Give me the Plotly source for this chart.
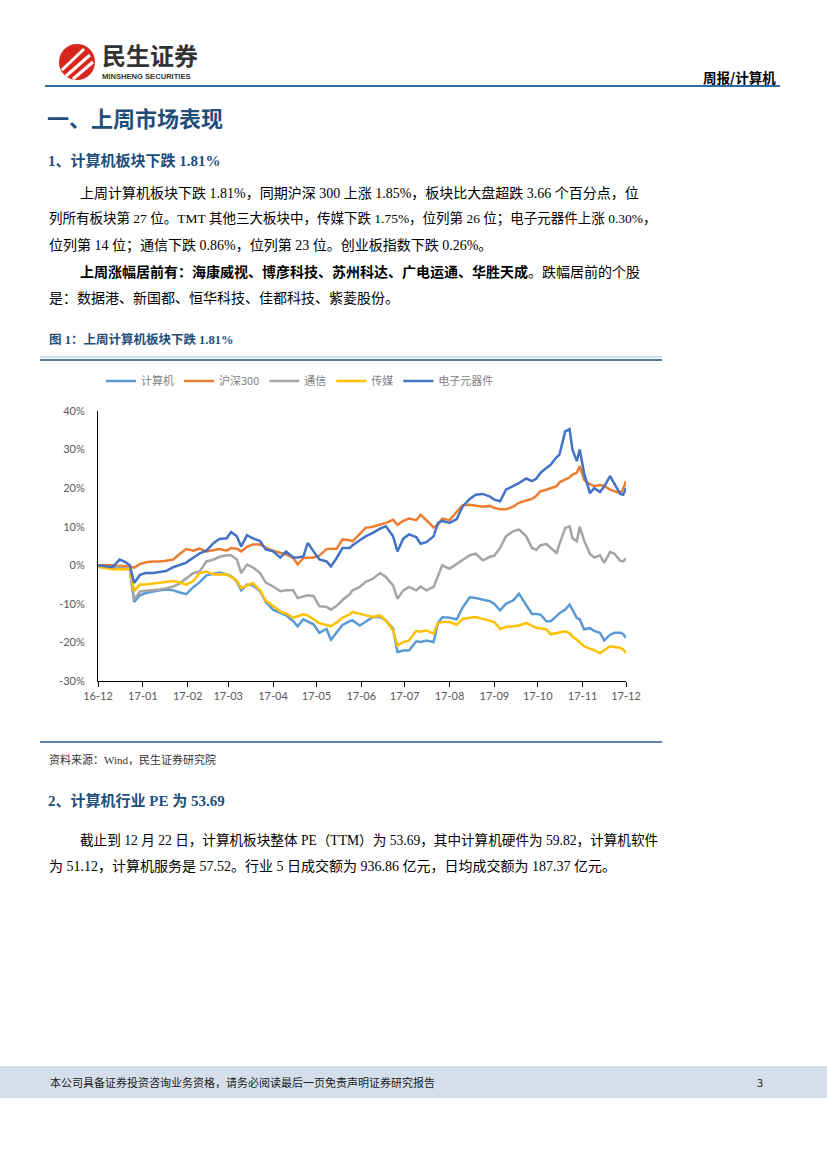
import plotly.graph_objects as go

W, H = 827, 1169

# ---------------- data ----------------
dates = [
    "2016-12-22", "2016-12-28", "2017-01-01", "2017-01-06", "2017-01-10", "2017-01-13", "2017-01-16",
    "2017-01-20", "2017-01-24", "2017-01-29", "2017-02-03", "2017-02-07", "2017-02-12", "2017-02-16",
    "2017-02-21", "2017-02-26", "2017-03-02", "2017-03-07", "2017-03-12", "2017-03-16", "2017-03-21",
    "2017-03-24", "2017-03-28", "2017-03-31", "2017-04-04", "2017-04-08", "2017-04-13", "2017-04-17",
    "2017-04-22", "2017-04-27", "2017-05-01", "2017-05-06", "2017-05-09", "2017-05-13", "2017-05-16",
    "2017-05-20", "2017-05-24", "2017-05-29", "2017-06-01", "2017-06-05", "2017-06-09", "2017-06-14",
    "2017-06-16", "2017-06-21", "2017-06-25", "2017-06-30", "2017-07-05", "2017-07-09", "2017-07-14",
    "2017-07-17", "2017-07-21", "2017-07-25", "2017-07-30", "2017-08-02", "2017-08-06", "2017-08-11",
    "2017-08-14", "2017-08-17", "2017-08-22", "2017-08-27", "2017-08-31", "2017-09-05", "2017-09-09",
    "2017-09-14", "2017-09-19", "2017-09-22", "2017-09-26", "2017-09-30", "2017-10-05", "2017-10-09",
    "2017-10-14", "2017-10-18", "2017-10-21", "2017-10-24", "2017-10-28", "2017-10-31", "2017-11-04",
    "2017-11-06", "2017-11-10", "2017-11-13", "2017-11-15", "2017-11-18", "2017-11-20", "2017-11-23",
    "2017-11-27", "2017-11-30", "2017-12-04", "2017-12-07", "2017-12-11", "2017-12-14", "2017-12-18",
    "2017-12-20", "2017-12-22",
]

computer = [
    -0.4, -0.6, -0.9, -0.9, -0.9, -1.0, -9.5, -7.8, -7.2, -6.8, -6.5, -6.3, -6.5, -7.0,
    -7.5, -5.6, -4.5, -2.6, -2.2, -1.9, -2.4, -2.8, -4.2, -6.5, -5.0, -5.2, -6.7, -9.5,
    -11.5, -12.4, -13.0, -14.5, -15.8, -14.0, -14.5, -15.3, -17.5, -16.5, -19.3, -17.5, -15.5, -14.5,
    -14.3, -15.6, -14.7, -13.4, -13.4, -14.3, -16.5, -22.5, -22.1, -22.1, -19.7, -19.9, -19.5, -19.9,
    -15.0, -13.5, -13.6, -14.0, -11.0, -8.3, -8.5, -9.0, -9.3, -10.0, -11.7, -10.0, -9.1, -7.4,
    -10.5, -12.6, -12.6, -12.8, -14.5, -14.5, -13.2, -12.4, -11.5, -10.2, -11.5, -13.7, -14.0, -16.6,
    -16.3, -17.0, -17.5, -19.5, -18.0, -17.5, -17.5, -17.8, -18.8,
]

hs300 = [
    0.0, 0.0, 0.0, -0.2, -0.2, -0.4, -0.6, 0.3, 0.8, 1.0, 1.0, 1.2, 1.5, 2.8,
    4.2, 3.8, 4.3, 3.6, 3.9, 4.2, 3.8, 4.5, 4.3, 3.6, 4.8, 5.4, 5.4, 4.5,
    3.8, 3.3, 2.8, 1.9, 0.2, 1.9, 1.9, 2.0, 2.5, 4.2, 4.3, 4.3, 6.7, 6.5,
    6.2, 8.2, 9.7, 10.0, 10.5, 11.0, 11.8, 10.5, 11.5, 12.1, 11.7, 13.1, 11.7, 9.8,
    10.5, 12.1, 11.7, 14.0, 15.6, 15.7, 15.4, 15.2, 15.4, 14.9, 14.5, 14.5, 15.2, 16.2,
    16.8, 17.2, 18.0, 19.2, 19.6, 20.0, 20.5, 21.5, 22.2, 22.8, 23.5, 24.0, 25.7, 22.2,
    21.0, 20.5, 20.8, 20.5, 19.6, 19.2, 18.7, 19.8, 21.8,
]

telecom = [
    -0.4, -0.5, -0.6, -0.5, -0.8, -1.0, -8.9, -6.8, -6.6, -6.5, -6.3, -6.0, -5.5, -4.8,
    -3.5, -2.0, -1.7, 1.0, 1.5, 2.2, 2.6, 2.6, 1.5, -2.0, 0.2, -0.5, -2.0, -4.5,
    -5.5, -6.7, -6.5, -6.5, -8.5, -8.0, -7.8, -8.0, -10.6, -10.8, -11.5, -10.5, -9.0, -7.5,
    -6.5, -5.6, -4.3, -3.5, -2.0, -3.0, -5.2, -8.7, -6.5, -5.6, -6.5, -5.5, -6.5, -5.6,
    -3.0, 0.0, -0.9, 0.4, 1.3, 2.6, 3.0, 1.3, 2.2, 2.5, 4.5, 7.5, 8.8, 9.3,
    7.5, 4.5, 4.0, 5.2, 5.5, 4.5, 3.2, 5.5, 9.7, 10.1, 7.0, 6.2, 10.0, 6.5,
    3.0, 2.0, 2.6, 0.6, 3.5, 3.0, 1.2, 1.0, 1.8,
]

media = [
    -0.4, -0.8, -1.0, -1.0, -1.0, -1.0, -6.7, -5.0, -5.0, -4.8, -4.6, -4.3, -4.1, -4.4,
    -5.0, -4.1, -2.0, -1.6, -2.4, -2.3, -2.4, -3.0, -4.0, -5.9, -5.2, -4.6, -6.5, -9.2,
    -10.5, -12.0, -12.5, -13.6, -13.2, -12.7, -13.0, -14.0, -15.0, -15.5, -15.8, -14.8, -13.6, -12.7,
    -12.1, -12.6, -13.0, -13.4, -13.0, -14.3, -16.9, -20.8, -19.9, -19.5, -17.0, -17.2, -16.9, -17.7,
    -15.0, -14.7, -14.7, -15.4, -13.9, -13.6, -13.4, -13.9, -14.4, -14.7, -16.5, -16.0, -15.8, -15.6,
    -15.0, -15.8, -16.2, -16.3, -16.6, -17.9, -17.6, -17.3, -17.1, -17.6, -18.5, -19.3, -20.0, -21.0,
    -21.6, -22.0, -22.8, -22.0, -21.0, -21.2, -21.4, -21.8, -22.7,
]

electronics = [
    0.0, -0.3, -0.5, 1.5, 0.8, 0.0, -4.6, -2.5, -2.0, -2.0, -1.8, -1.5, -0.5, 0.0,
    0.7, 2.0, 3.0, 3.8, 5.8, 6.8, 7.0, 8.6, 7.5, 4.9, 7.8, 7.0, 6.3, 4.1,
    3.6, 2.0, 3.6, 2.0, 2.0, 2.3, 5.8, 3.6, 1.5, 1.0, -0.3, 1.9, 4.5, 4.5,
    5.2, 6.5, 7.5, 8.4, 9.5, 10.1, 7.5, 3.6, 6.9, 8.0, 7.3, 5.6, 6.0, 7.5,
    11.0, 11.5, 11.0, 12.0, 15.2, 17.2, 18.3, 18.5, 17.8, 17.0, 16.6, 19.6, 20.5, 21.3,
    22.5, 21.8, 22.5, 24.0, 25.2, 26.1, 28.0, 28.7, 34.7, 35.3, 30.0, 27.0, 30.0, 23.9,
    18.7, 20.0, 19.0, 20.5, 23.1, 21.0, 18.5, 18.3, 20.0,
]

series_names = ["计算机", "沪深300", "通信", "传媒", "电子元器件"]
series_values = [computer, hs300, telecom, media, electronics]
series_colors = ["#5B9BD5", "#ED7D31", "#A5A5A5", "#FFC000", "#4472C4"]

tick_dates = ["2016-12-22", "2017-01-22", "2017-02-22", "2017-03-22", "2017-04-22", "2017-05-22",
              "2017-06-22", "2017-07-22", "2017-08-22", "2017-09-22", "2017-10-22", "2017-11-22",
              "2017-12-22"]
tick_labels = ["16-12", "17-01", "17-02", "17-03", "17-04", "17-05", "17-06", "17-07", "17-08",
               "17-09", "17-10", "17-11", "17-12"]
y_ticks = [-30, -20, -10, 0, 10, 20, 30, 40]
y_tick_labels = ["-30%", "-20%", "-10%", "0%", "10%", "20%", "30%", "40%"]


def px(x):
    return x / W


def py(y):
    return 1 - y / H


fig = go.Figure()
for name, vals, col in zip(series_names, series_values, series_colors):
    fig.add_trace(go.Scatter(x=dates, y=vals, name=name, mode="lines",
                             line=dict(color=col, width=2.5)))

BODY = "Liberation Serif, Noto Sans CJK SC, serif"
HEI = "Noto Sans CJK SC, sans-serif"
NAVY = "#1F4E79"
TICKFONT = dict(family="Lato, Liberation Sans, sans-serif", size=11, color="#595959")

fig.update_layout(
    width=W, height=H, autosize=False,
    margin=dict(l=0, r=0, t=0, b=0, pad=0, autoexpand=False),
    paper_bgcolor="white", plot_bgcolor="white",
    showlegend=True,
    legend=dict(orientation="h", x=px(300), xanchor="center", y=py(381), yanchor="middle",
                font=dict(family=HEI, size=11, color="#7F7F7F"), bgcolor="rgba(0,0,0,0)",
                itemwidth=30, tracegroupgap=0),
    xaxis=dict(domain=[px(98), px(626)], type="date", range=["2016-12-22", "2017-12-22"],
               tickvals=tick_dates, ticktext=tick_labels, ticks="outside", ticklen=5,
               tickcolor="black", showline=True, linecolor="black", linewidth=1,
               showgrid=False, zeroline=False, automargin=False, tickfont=TICKFONT),
    yaxis=dict(domain=[py(681), py(411)], range=[-30, 40], tickvals=y_ticks, ticktext=y_tick_labels,
               showline=True, linecolor="black", linewidth=1, showgrid=False, zeroline=False,
               ticks="", ticklabelstandoff=10, automargin=False, tickfont=TICKFONT),
)

shapes = []
# logo circle and stripes
shapes.append(dict(type="circle", xref="paper", yref="paper", x0=px(59), x1=px(95), y0=py(80), y1=py(44),
                   fillcolor="#D9261C", line=dict(width=0)))
for (a, b, c, d) in [(62, 70, 84, 49), (66, 76, 90, 55), (73, 79, 93, 62)]:
    shapes.append(dict(type="line", xref="paper", yref="paper", x0=px(a), y0=py(b), x1=px(c), y1=py(d),
                       line=dict(color="white", width=3)))
# header rule
shapes.append(dict(type="line", xref="paper", yref="paper", x0=px(45), x1=px(780), y0=py(86), y1=py(86),
                   line=dict(color="#2E6DA4", width=2)))
# chart frame lines
shapes.append(dict(type="line", xref="paper", yref="paper", x0=px(40), x1=px(662), y0=py(357), y1=py(357),
                   line=dict(color="#BDD7EE", width=1.5)))
shapes.append(dict(type="line", xref="paper", yref="paper", x0=px(40), x1=px(662), y0=py(360), y1=py(360),
                   line=dict(color="#1F4E79", width=1.5)))
shapes.append(dict(type="line", xref="paper", yref="paper", x0=px(40), x1=px(662), y0=py(742), y1=py(742),
                   line=dict(color="#2F5597", width=1.5)))
# footer band
shapes.append(dict(type="rect", xref="paper", yref="paper", x0=0, x1=1, y0=py(1098), y1=py(1066),
                   fillcolor="#D5DFEB", line=dict(width=0), layer="below"))
fig.update_layout(shapes=shapes)


def txt(x, y, s, size, family=BODY, color="black", anchor="left"):
    return dict(xref="paper", yref="paper", x=px(x), y=py(y), text=s, showarrow=False,
                xanchor=anchor, yanchor="middle", font=dict(family=family, size=size, color=color))


ann = [
    txt(100, 55, "<b>民生证券</b>", 24, HEI, "#333333"),
    txt(100, 77, "<b>MINSHENG SECURITIES</b>", 7.6, "Liberation Sans, sans-serif", "#333333"),
    txt(778, 77, "<b>周报/计算机</b>", 13.5, HEI, "black", "right"),
    txt(45, 117, "<b>一、上周市场表现</b>", 22, HEI, NAVY),
    txt(46, 160, "<b>1、计算机板块下跌 1.81%</b>", 15, "Liberation Serif, Noto Sans CJK SC", NAVY),
    txt(78, 193, "上周计算机板块下跌 1.81%，同期沪深 300 上涨 1.85%，板块比大盘超跌 3.66 个百分点，位", 14),
    txt(47, 219, "列所有板块第 27 位。TMT 其他三大板块中，传媒下跌 1.75%，位列第 26 位；电子元器件上涨 0.30%，", 13.5),
    txt(47, 246, "位列第 14 位；通信下跌 0.86%，位列第 23 位。创业板指数下跌 0.26%。", 14),
    txt(78, 272, "<b>上周涨幅居前有：海康威视、博彦科技、苏州科达、广电运通、华胜天成</b>。跌幅居前的个股", 14),
    txt(47, 298, "是：数据港、新国都、恒华科技、佳都科技、紫菱股份。", 14),
    txt(47, 340, "<b>图 1：上周计算机板块下跌 1.81%</b>", 12.5, "Liberation Serif, Noto Sans CJK SC", NAVY),
    txt(47, 759, "资料来源：Wind，民生证券研究院", 11, BODY, "#333333"),
    txt(46, 800, "<b>2、计算机行业 PE 为 53.69</b>", 15, "Liberation Serif, Noto Sans CJK SC", NAVY),
    txt(78, 840, "截止到 12 月 22 日，计算机板块整体 PE（TTM）为 53.69，其中计算机硬件为 59.82，计算机软件", 13.6),
    txt(47, 866, "为 51.12，计算机服务是 57.52。行业 5 日成交额为 936.86 亿元，日均成交额为 187.37 亿元。", 14),
    txt(48, 1082, "本公司具备证券投资咨询业务资格，请务必阅读最后一页免责声明证券研究报告", 11, HEI, "#222222"),
    txt(755, 1082, "3", 11, HEI, "#222222"),
]
fig.update_layout(annotations=ann)

fig.write_html("out.html", config={"displayModeBar": False},
               post_script="document.body.style.margin='0';document.body.style.overflow='hidden';")
